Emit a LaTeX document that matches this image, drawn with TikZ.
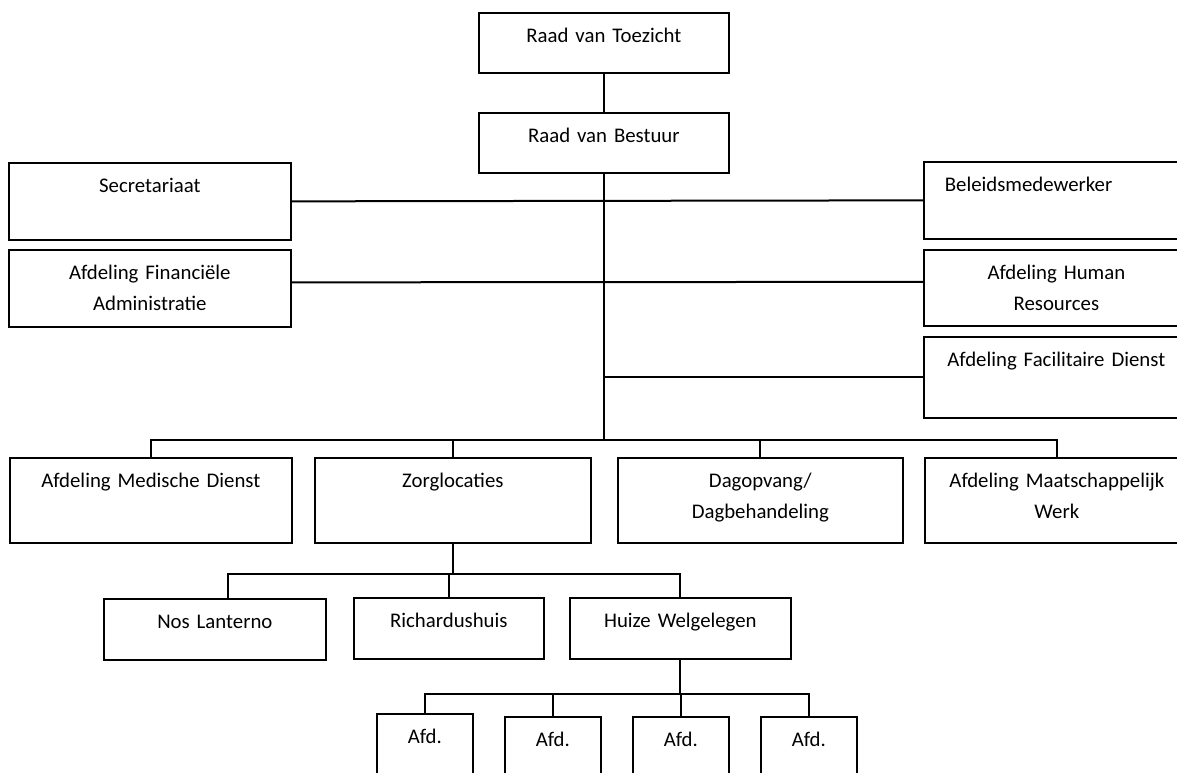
\documentclass[tikz,border=0pt]{standalone}
\usepackage{fontspec}
\setmainfont{Carlito}
\usetikzlibrary{positioning,calc}
\tikzset{
	box/.style 2 args={draw, line width=1.7pt, anchor=north west, inner sep=0pt,
		align=center, text width=#1, text height=30pt, text depth=#2},
	conn/.style={line width=2pt}
}

\begin{document}
\begin{tikzpicture}[x=1pt, y=-1pt, font=\fontsize{20.8}{31}\selectfont]
	\useasboundingbox (0,0) rectangle (1177,773);
	\clip (0,0) rectangle (1177,773);

	% bestuur
	\node[box={250pt}{30pt}] (rvt) at (478,12) {Raad van Toezicht};
	\node[box={250pt}{30pt}] (rvb) at (478,112) {Raad van Bestuur};

	% staf
	\node[box={282pt}{47pt}] (sec) at (8,162) {Secretariaat};
	\node[box={282pt}{47pt}] (fin) at (8,249) {Afdeling Financiële\\Administratie};
	\node[box={265pt}{47pt}, align=left] (bel) at (923,161) {\hspace*{21pt}Beleidsmedewerker};
	\node[box={265pt}{46pt}] (hr) at (923,249) {Afdeling Human\\Resources};
	\node[box={265pt}{51pt}] (fac) at (923,336) {Afdeling Facilitaire Dienst};

	% afdelingen
	\node[box={282pt}{55pt}] (med) at (9,457) {Afdeling Medische Dienst};
	\node[box={276pt}{55pt}] (zorg) at (314,457) {Zorglocaties};
	\node[box={285pt}{55pt}] (dag) at (617,457) {Dagopvang/\\Dagbehandeling};
	\node[box={264pt}{55pt}] (maat) at (924,457) {Afdeling Maatschappelijk\\Werk};

	% locaties
	\node[box={222pt}{31pt}] (nos) at (103,598) {Nos Lanterno};
	\node[box={190pt}{31pt}] (rich) at (353,597) {Richardushuis};
	\node[box={221pt}{31pt}] (huize) at (569,597) {Huize Welgelegen};
	\foreach \i/\x/\y in {1/376/713, 2/504/716, 3/632/716, 4/760/716}
		\node[box={96pt}{50pt}] (afd\i) at (\x,\y) {Afd.};

	% lijnen
	\draw[conn] (rvt) -- (rvb);
	\path (rvb.south) ++(0,266) coordinate (bus);
	\draw[conn] (rvb.south) -- (bus);
	\draw[conn] (sec.east) -- (bel.west);
	\draw[conn] ([yshift=6pt]fin.east) -- ([yshift=6pt]hr.west);
	\draw[conn] (fac.west) -- (fac.west -| rvb.south);
	\draw[conn] (med.north) |- (bus) -| (maat.north);
	\foreach \n in {zorg,dag}
		\draw[conn] (\n.north) -- (\n.north |- bus);

	\path (zorg.south) ++(0,30) coordinate (zbus);
	\draw[conn] (zorg.south) -- (zbus);
	\draw[conn] ([xshift=13pt]nos.north) |- (zbus) -| (huize.north);
	\draw[conn] (rich.north) -- (rich.north |- zbus);

	\path (huize.south) ++(0,34) coordinate (hbus);
	\draw[conn] (huize.south) -- (hbus);
	\draw[conn] (afd1.north) |- (hbus) -| (afd4.north);
	\foreach \i in {2,3}
		\draw[conn] (afd\i.north) -- (afd\i.north |- hbus);
\end{tikzpicture}
\end{document}
